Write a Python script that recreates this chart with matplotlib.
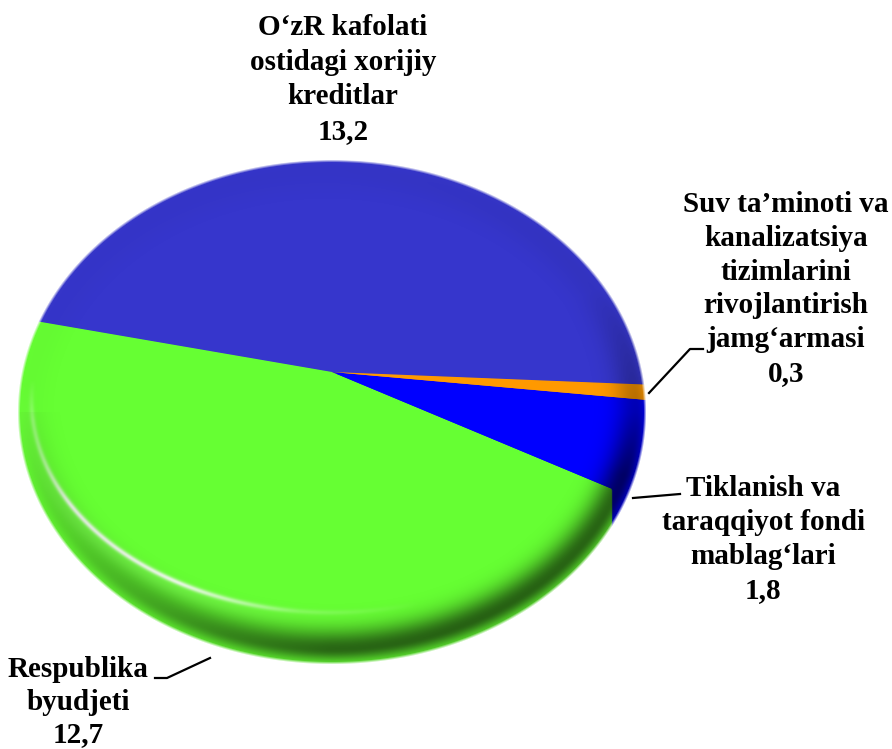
import numpy as np
import matplotlib
matplotlib.use("Agg")
import matplotlib.pyplot as plt
from matplotlib.transforms import Affine2D, Transform

values = [13.2, 12.7, 1.8, 0.3]
colors = ["#3636CC", "#66FF33", "#0000FF", "#FF9900"]
top_label = "O‘zR kafolati\nostidagi xorijiy\nkreditlar\n13,2"
green_label = "Respublika\nbyudjeti\n12,7"
blue_label = "Tiklanish va\ntaraqqiyot fondi\nmablag‘lari\n1,8"
orange_label = "Suv ta’minoti va\nkanalizatsiya\ntizimlarini\nrivojlantirish\njamg‘armasi\n0,3"

plt.rcParams["font.family"] = ["Liberation Serif", "DejaVu Serif"]

# pie geometry in pixels
APEX_X, APEX_Y = 332, 372
FACE_TOP, FACE_BOTTOM = 160, 612
RIM_RX, RIM_RY, RIM_CY = 314, 252, 412
RIM_DEPTH = 53
c = (2 * APEX_Y - FACE_TOP - FACE_BOTTOM) / (FACE_TOP - FACE_BOTTOM)
a = FACE_TOP * (1 + c) - APEX_Y


class Tilt(Transform):
    # unit circle -> tilted disc seen in perspective
    input_dims = 2
    output_dims = 2
    is_separable = False

    def transform_non_affine(self, xy):
        xy = np.asarray(xy)
        w = c * xy[:, 1] + 1
        return np.column_stack([APEX_X + RIM_RX * xy[:, 0] / w, (a * xy[:, 1] + APEX_Y) / w])


def edge_dist(xx, yy, cx, cy, rx, ry):
    # approx distance in px inside an ellipse edge
    X = (xx - cx) / rx
    Y = (yy - cy) / ry
    e = np.maximum(np.hypot(X, Y), 1e-6)
    grad = np.hypot(X / rx, Y / ry) / e
    return (1 - e) / np.maximum(grad, 1e-6)


fig = plt.figure(figsize=(8.92, 7.49), dpi=100)
ax = fig.add_axes([0, 0, 1, 1])

# rim is the same pie stacked downwards, face goes last
for shift in np.arange(RIM_DEPTH, -1, -1.0):
    wedges, _ = ax.pie(values, colors=colors, startangle=-3.2, counterclock=True, radius=1, frame=True)
    for w in wedges:
        w.set_transform(Tilt() + Affine2D().translate(0, shift) + ax.transData)
        w.set_linewidth(0.6 if shift else 0)
        w.set_edgecolor(w.get_facecolor())

ax.set_aspect("auto")
ax.axis("off")

# shading on top of the slices
yy, xx = np.mgrid[0:749, 0:892] + 0.5
d = edge_dist(xx, yy, APEX_X, RIM_CY, RIM_RX, RIM_RY)
ang = np.degrees(np.arctan2((yy - RIM_CY) / RIM_RY, (xx - APEX_X) / RIM_RX))

# dark band inside the lower right edge
strength = np.interp(ang, [-180, -90, -30, 0, 15, 60, 90, 110, 130, 150, 180],
                     [0.02, 0.03, 0.06, 0.3, 0.6, 0.62, 0.6, 0.48, 0.32, 0.18, 0.05])
peak = 10 + 5 * np.clip(np.sin(np.radians(ang)), 0, 1)
spread = np.where(d > peak, 20.0, 12.0)
dark = strength * np.exp(-((d - peak) / spread) ** 2)

# pale line where face meets rim, strongest lower left
g = edge_dist(xx, yy, APEX_X, 400, 300, 212)
glow = np.interp(xx, [18, 35, 70, 180, 300, 420, 892], [0.2, 0.3, 0.85, 0.85, 0.2, 0, 0])
lower = np.clip((yy - 380) / 40, 0, 1)
light = glow * lower * np.exp(-((g + 0.5) / 2.6) ** 2)
light = light + 0.1 * glow * lower * np.exp(-((g + 7) / 8.0) ** 2)
light = np.clip(light, 0, 1)

alpha = 1 - (1 - dark) * (1 - light)
rgb = (1 - dark) * light / np.maximum(alpha, 1e-6)

# white outside the disc, soft edge of about 3 px
cover = np.clip((d + 0.5) / 3.0, 0, 1)
alpha2 = 1 - (1 - alpha) * cover
rgb2 = (rgb * alpha * cover + (1 - cover)) / np.maximum(alpha2, 1e-6)
shade = np.dstack([rgb2, rgb2, rgb2, alpha2])
ax.imshow(shade, extent=(0, 892, 749, 0), aspect="auto", interpolation="bilinear", zorder=3)
ax.set_xlim(0, 892)
ax.set_ylim(749, 0)

# leader lines
ax.plot([649, 690, 703], [393, 349, 349], color="black", lw=1.6, zorder=4)
ax.plot([633, 680], [498, 494], color="black", lw=1.6, zorder=4)
ax.plot([210, 167, 155], [658, 678, 678], color="black", lw=1.6, zorder=4)

txt = dict(ha="center", va="center", fontsize=21, fontweight="bold", color="black", zorder=5)
ax.text(343, 79.5, top_label, linespacing=1.38, **txt)
ax.text(786, 289, orange_label, linespacing=1.32, **txt)
ax.text(763, 539.5, blue_label, linespacing=1.34, **txt)
ax.text(78, 702, green_label, linespacing=1.28, **txt)

fig.savefig("out.png", dpi=100)
